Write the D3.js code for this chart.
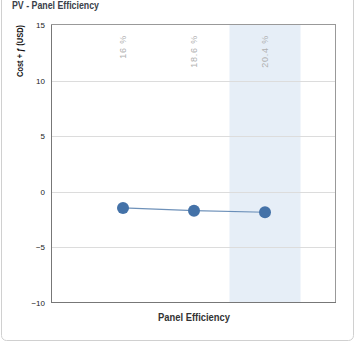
<!DOCTYPE html>
<html><head><meta charset="utf-8">
<script src="https://cdn.jsdelivr.net/npm/d3@7"></script>
<style>
html,body{margin:0;padding:0;background:#fff;}
svg{display:block;}
text{font-family:"Liberation Sans",Arial,sans-serif;}
</style></head>
<body>
<svg id="c" width="358" height="350"></svg>
<script>
const categories = ["16 %", "18.6 %", "20.4 %"];
const costValues = [-1.45, -1.70, -1.84];
const yTicks = [15, 10, 5, 0, -5, -10];
const highlighted = ["20.4 %"];
const title = "PV - Panel Efficiency";
const yTitle = "Cost + ƒ (USD)";
const xTitle = "Panel Efficiency";

const svg = d3.select("#c");
const m = {left: 52, right: 336, top: 25, bottom: 303};

// card
svg.append("rect").attr("x",1.5).attr("y",-10).attr("width",352).attr("height",350.5)
  .attr("rx",5).attr("fill","#fff").attr("stroke","#d0d0d0").attr("stroke-width",1);

const x = d3.scalePoint().domain(categories).range([m.left, m.right]).padding(1);
const y = d3.scaleLinear().domain([-10, 15]).range([m.bottom, m.top]);
const step = x.step();

// highlight band
svg.selectAll(".band").data(highlighted).enter().append("rect")
  .attr("x", d => x(d) - step/2).attr("y", m.top)
  .attr("width", step).attr("height", m.bottom - m.top)
  .attr("fill", "#e6eef7");

// gridlines
svg.selectAll(".grid").data(yTicks.filter(t => t > -10 && t < 15)).enter().append("line")
  .attr("x1", m.left).attr("x2", m.right)
  .attr("y1", d => Math.round(y(d)) + 0.5).attr("y2", d => Math.round(y(d)) + 0.5)
  .attr("stroke", "#dcdcdc").attr("stroke-width", 1);

// frame
svg.append("rect").attr("x", m.left - 0.5).attr("y", m.top - 0.5)
  .attr("width", m.right - m.left).attr("height", m.bottom - m.top)
  .attr("fill", "none").attr("stroke", "#999").attr("stroke-width", 1);
svg.append("line").attr("x1", m.left - 0.5).attr("x2", m.left - 0.5).attr("y1", m.top).attr("y2", m.bottom)
  .attr("stroke", "#777");
svg.append("line").attr("x1", m.left).attr("x2", m.right).attr("y1", m.bottom - 0.5).attr("y2", m.bottom - 0.5)
  .attr("stroke", "#777");

// y axis
const yAxis = d3.axisLeft(y).tickValues(yTicks).tickSize(0).tickPadding(7);
const ga = svg.append("g").attr("transform", `translate(${m.left},0)`).call(yAxis);
ga.select(".domain").remove();
ga.selectAll("text").attr("font-size", 8).attr("fill", "#222")
  .style("font-family", "'Liberation Sans', Arial, sans-serif");

// category labels rotated at top
svg.selectAll(".cat").data(categories).enter().append("text")
  .attr("transform", d => `translate(${x(d) + 3},35) rotate(-90)`)
  .attr("text-anchor", "end")
  .attr("font-size", 9).attr("fill", "#b0b0b0").attr("letter-spacing", 0.8)
  .text(d => d);

// line
const pts = categories.map((c, i) => [x(c), y(costValues[i])]);
svg.append("path").attr("d", d3.line()(pts)).attr("fill", "none")
  .attr("stroke", "#4a76a8").attr("stroke-width", 1.2).attr("opacity", 0.8);
svg.selectAll(".pt").data(pts).enter().append("circle")
  .attr("cx", d => d[0]).attr("cy", d => d[1]).attr("r", 6)
  .attr("fill", "#4472a8");

// titles
svg.append("text").attr("x", 12).attr("y", 9).attr("font-size", 11).attr("font-weight", "bold")
  .attr("fill", "#3a3f4a").attr("textLength", 87).attr("lengthAdjust", "spacingAndGlyphs").text(title);
svg.append("text").attr("transform", "translate(23,51) rotate(-90)").attr("text-anchor", "middle")
  .attr("font-size", 9).attr("font-weight", "bold").attr("fill", "#111")
  .attr("textLength", 52).attr("lengthAdjust", "spacingAndGlyphs").text(yTitle);
svg.append("text").attr("x", (m.left + m.right) / 2).attr("y", 321).attr("text-anchor", "middle")
  .attr("font-size", 10.5).attr("font-weight", "bold").attr("fill", "#333")
  .attr("textLength", 72).attr("lengthAdjust", "spacingAndGlyphs").text(xTitle);
</script>
</body></html>
